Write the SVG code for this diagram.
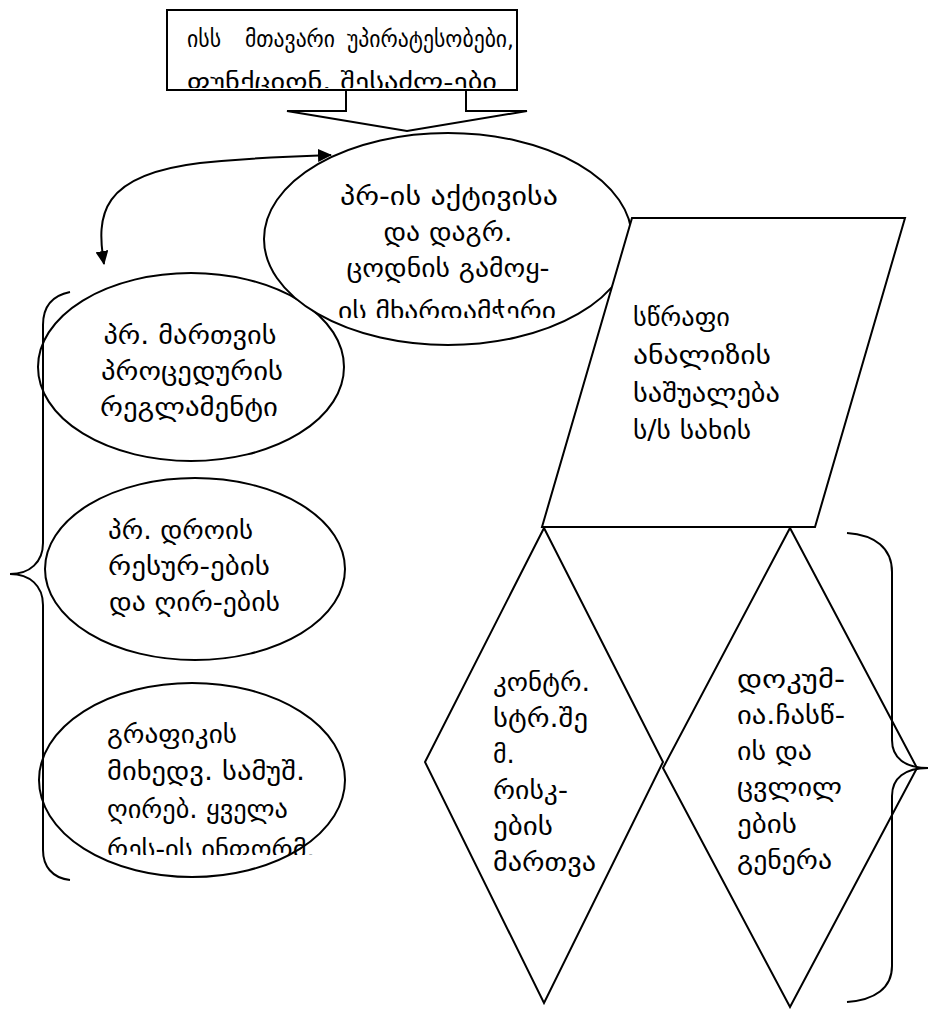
<svg xmlns="http://www.w3.org/2000/svg" width="929" height="1009" viewBox="0 0 929 1009">
<style>
.s{fill:#fff;stroke:#000;stroke-width:2}
.l{fill:none;stroke:#000;stroke-width:2}
.t{font-family:"DejaVu Sans",sans-serif;font-size:26px;fill:#000}
.tb{font-family:"DejaVu Sans",sans-serif;font-size:23px;fill:#000}
.c{text-anchor:middle}
</style>
<defs>
<marker id="ah" viewBox="0 0 14 13" refX="13" refY="6.5" markerWidth="14" markerHeight="13" markerUnits="userSpaceOnUse" orient="auto-start-reverse">
<path d="M0,0 L14,6.5 L0,13 Z" fill="#000"/>
</marker>
<clipPath id="cpTop"><rect x="168" y="11" width="348" height="77"/></clipPath>
<clipPath id="cpE0"><rect x="260" y="130" width="380" height="188"/></clipPath>
<clipPath id="cpE3"><rect x="40" y="680" width="310" height="175"/></clipPath>
</defs>
<rect width="929" height="1009" fill="#fff"/>

<g id="node-top">
<rect class="s" x="167" y="10" width="350" height="80"/>
<g clip-path="url(#cpTop)">
<text class="tb" x="187" y="47" textLength="34" lengthAdjust="spacingAndGlyphs">ისს</text>
<text class="tb" x="245" y="47" textLength="90" lengthAdjust="spacingAndGlyphs">მთავარი</text>
<text class="tb" x="347" y="47" textLength="167" lengthAdjust="spacingAndGlyphs">უპირატესობები,</text>
<text class="tb" x="187" y="90" textLength="310" lengthAdjust="spacingAndGlyphs">ფუნქციონ. შესაძლ-ები</text>
</g>
</g>

<g id="node-block-arrow">
<polygon class="s" points="346,90 346,111 287,111 407,131 527,111 466,111 466,90"/>
</g>

<g id="node-e1">
<ellipse class="s" cx="191" cy="367" rx="153" ry="94"/>
<text class="t c" x="190" y="344" textLength="173" lengthAdjust="spacingAndGlyphs">პრ. მართვის</text>
<text class="t c" x="192" y="380" textLength="182" lengthAdjust="spacingAndGlyphs">პროცედურის</text>
<text class="t c" x="189" y="416" textLength="178" lengthAdjust="spacingAndGlyphs">რეგლამენტი</text>
</g>

<g id="node-e0">
<ellipse class="s" cx="448" cy="239" rx="184" ry="106"/>
<g clip-path="url(#cpE0)">
<text class="t c" x="449" y="205" textLength="218" lengthAdjust="spacingAndGlyphs">პრ-ის აქტივისა</text>
<text class="t c" x="448" y="241" textLength="129" lengthAdjust="spacingAndGlyphs">და დაგრ.</text>
<text class="t c" x="448" y="277" textLength="203" lengthAdjust="spacingAndGlyphs">ცოდნის გამოყ-</text>
<text class="t c" x="447" y="320" textLength="218" lengthAdjust="spacingAndGlyphs">ის მხარდამჭერი</text>
</g>
</g>

<g id="node-e2">
<ellipse class="s" cx="195" cy="569" rx="150" ry="91"/>
<text class="t" x="108" y="539" textLength="145" lengthAdjust="spacingAndGlyphs">პრ. დროის</text>
<text class="t" x="108" y="575" textLength="162" lengthAdjust="spacingAndGlyphs">რესურ-ების</text>
<text class="t" x="109" y="611" textLength="171" lengthAdjust="spacingAndGlyphs">და ღირ-ების</text>
</g>

<g id="node-e3">
<ellipse class="s" cx="192" cy="780" rx="153" ry="97"/>
<g clip-path="url(#cpE3)">
<text class="t" x="107" y="743" textLength="130" lengthAdjust="spacingAndGlyphs">გრაფიკის</text>
<text class="t" x="107" y="780" textLength="198" lengthAdjust="spacingAndGlyphs">მიხედვ. სამუშ.</text>
<text class="t" x="107" y="818" textLength="181" lengthAdjust="spacingAndGlyphs">ღირებ. ყველა</text>
<text class="t" x="107" y="858" textLength="208" lengthAdjust="spacingAndGlyphs">რეს-ის ინფორმ.</text>
</g>
</g>

<g id="node-para">
<polygon class="s" points="632,218 905,218 815,527 542,527"/>
<text class="t" x="633" y="326" textLength="97" lengthAdjust="spacingAndGlyphs">სწრაფი</text>
<text class="t" x="633" y="364" textLength="138" lengthAdjust="spacingAndGlyphs">ანალიზის</text>
<text class="t" x="633" y="402" textLength="147" lengthAdjust="spacingAndGlyphs">საშუალება</text>
<text class="t" x="633" y="439" textLength="118" lengthAdjust="spacingAndGlyphs">ს/ს სახის</text>
</g>

<g id="node-d1">
<polygon class="s" points="544,528 663,762 544,1003 425,762"/>
<text class="t" x="493" y="691" textLength="97" lengthAdjust="spacingAndGlyphs">კონტრ.</text>
<text class="t" x="493" y="727" textLength="95" lengthAdjust="spacingAndGlyphs">სტრ.შე</text>
<text class="t" x="493" y="763">მ.</text>
<text class="t" x="493" y="799" textLength="75" lengthAdjust="spacingAndGlyphs">რისკ-</text>
<text class="t" x="493" y="835" textLength="60" lengthAdjust="spacingAndGlyphs">ების</text>
<text class="t" x="493" y="871" textLength="103" lengthAdjust="spacingAndGlyphs">მართვა</text>
</g>

<g id="node-d2">
<polygon class="s" points="790,528 917,768 790,1007 663,768"/>
<text class="t" x="737" y="688" textLength="108" lengthAdjust="spacingAndGlyphs">დოკუმ-</text>
<text class="t" x="737" y="724" textLength="108" lengthAdjust="spacingAndGlyphs">ია.ჩასწ-</text>
<text class="t" x="737" y="760" textLength="75" lengthAdjust="spacingAndGlyphs">ის და</text>
<text class="t" x="737" y="796" textLength="105" lengthAdjust="spacingAndGlyphs">ცვლილ</text>
<text class="t" x="737" y="833" textLength="60" lengthAdjust="spacingAndGlyphs">ების</text>
<text class="t" x="737" y="869" textLength="95" lengthAdjust="spacingAndGlyphs">გენერა</text>
</g>

<g id="connectors">
<path class="l" d="M104,264 C96,215 100,175 200,163 C260,157 300,156 331,155" marker-start="url(#ah)" marker-end="url(#ah)"/>
<path class="l" d="M70,292 C50,296 43,308 43,325 L43,543 C43,562 30,574 10,574 C30,574 43,586 43,605 L43,850 C43,866 52,878 70,880"/>
<path class="l" d="M847,533 C875,535 892,548 892,572 L892,740 C892,758 905,768 928,768 C905,768 892,778 892,796 L892,966 C892,988 875,1000 847,1002"/>
</g>
</svg>
